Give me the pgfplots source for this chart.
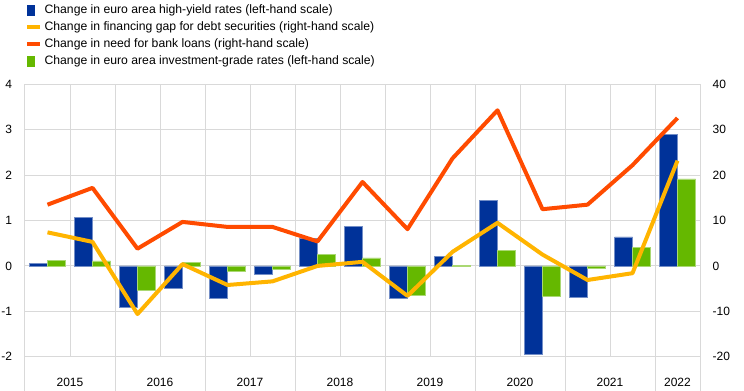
\documentclass[border=0pt]{standalone}
\usepackage{pgfplots}
\pgfplotsset{compat=1.18}
\usepackage{fontspec}
\setmainfont{Liberation Sans}
\definecolor{ecbblue}{HTML}{003299}
\definecolor{ecbgreen}{HTML}{65B800}
\definecolor{ecbyellow}{HTML}{FFB400}
\definecolor{ecborange}{HTML}{FF4B00}
\definecolor{gridgray}{HTML}{D9D9D9}
\begin{document}
\begin{tikzpicture}
\begin{axis}[
  at={(18.75pt,25.725pt)}, anchor=south west,
  scale only axis, width=506.25pt, height=204.2pt,
  xmin=-0.5, xmax=14.5, ymin=-2, ymax=4,
  axis line style={draw=gridgray, line width=0.75pt},
  xtick={0.5,2.5,4.5,6.5,8.5,10.5,12.5,14},
  xticklabels={2015,2016,2017,2018,2019,2020,2021,2022},
  minor xtick={0.5,1.5,2.5,3.5,4.5,5.5,6.5,7.5,8.5,9.5,10.5,11.5,12.5,13.5},
  xminorgrids, 
  ytick={-2,-1,0,1,2,3,4},
  yticklabels={-2,-1,0,1,2,3,4},
  ymajorgrids,
  grid style={draw=gridgray, line width=0.75pt},
  minor grid style={draw=gridgray, line width=0.75pt},
  major tick length=0pt, minor tick length=0pt,
  tick pos=left,
  extra x ticks={-0.5,1.5,3.5,5.5,7.5,9.5,11.5,13.5,14.5},
  extra x tick labels={},
  extra x tick style={major tick length=25.8pt, tick align=outside,
     tick style={draw=gridgray, line width=0.75pt}, grid=none},
  xticklabel style={anchor=base, yshift=-22pt, font=\fontsize{9}{10}\selectfont},
  yticklabel style={anchor=east, xshift=-6.2pt, font=\fontsize{9}{10}\selectfont},
]
\addplot[ybar, bar width=0.4, bar shift=-0.2, fill=ecbblue, draw=ecbblue!55!white, line width=0.4pt]
 coordinates {(0,0.05)(1,1.07)(2,-0.90)(3,-0.50)(4,-0.71)(5,-0.18)(6,0.60)(7,0.87)(8,-0.71)(9,0.21)(10,1.44)(11,-1.94)(12,-0.69)(13,0.64)(14,2.90)};
\addplot[ybar, bar width=0.4, bar shift=0.2, fill=ecbgreen, draw=ecbgreen!55!white, line width=0.4pt]
 coordinates {(0,0.13)(1,0.11)(2,-0.53)(3,0.07)(4,-0.11)(5,-0.08)(6,0.26)(7,0.18)(8,-0.64)(9,0.01)(10,0.35)(11,-0.67)(12,-0.05)(13,0.41)(14,1.92)};
\end{axis}
\begin{axis}[
  at={(18.75pt,25.725pt)}, anchor=south west,
  scale only axis, width=506.25pt, height=204.2pt,
  xmin=-0.5, xmax=14.5, ymin=-20, ymax=40,
  axis x line=none, axis y line*=right,
  axis line style={draw=gridgray, line width=0.75pt},
  ytick={-20,-10,0,10,20,30,40},
  yticklabels={-20,-10,0,10,20,30,40},
  major tick length=0pt,
  yticklabel style={anchor=west, xshift=6pt, font=\fontsize{9}{10}\selectfont},
  legend style={at={(0,1)}, anchor=south west, yshift=12.6pt, draw=none, fill=none,
     inner sep=0pt, row sep=3.75pt, column sep=0pt,
     nodes={inner sep=0pt, text height=7pt, text depth=2pt, font=\fontsize{9.15}{10}\selectfont}},
  legend cell align=left,
]
\addlegendimage{legend image code/.code={\fill[ecbblue] (0pt,-3.75pt) rectangle (5.25pt,3.75pt); \path[draw=none] (0pt,0pt) -- (13pt,0pt);}}
\addlegendentry{Change in euro area high-yield rates (left-hand scale)}
\addplot[ecbyellow, line width=3pt, line join=round,
  legend image code/.code={\draw[ecbyellow, line width=3pt] (0pt,0pt) -- (9.75pt,0pt); \path[draw=none] (0pt,0pt) -- (13pt,0pt);}]
 coordinates {(0,7.4)(1,5.3)(2,-10.6)(3,0.4)(4,-4.2)(5,-3.4)(6,0.0)(7,0.9)(8,-6.6)(9,3.1)(10,9.5)(11,2.5)(12,-3.1)(13,-1.6)(14,23.2)};
\addlegendentry{Change in financing gap for debt securities (right-hand scale)}
\addplot[ecborange, line width=3pt, line join=round,
  legend image code/.code={\draw[ecborange, line width=3pt] (0pt,0pt) -- (9.75pt,0pt); \path[draw=none] (0pt,0pt) -- (13pt,0pt);}]
 coordinates {(0,13.5)(1,17.2)(2,3.8)(3,9.7)(4,8.6)(5,8.6)(6,5.4)(7,18.5)(8,8.1)(9,23.7)(10,34.3)(11,12.5)(12,13.5)(13,22.2)(14,32.6)};
\addlegendentry{Change in need for bank loans (right-hand scale)}
\addlegendimage{legend image code/.code={\fill[ecbgreen] (0pt,-3.75pt) rectangle (5.25pt,3.75pt); \path[draw=none] (0pt,0pt) -- (13pt,0pt);}}
\addlegendentry{Change in euro area investment-grade rates (left-hand scale)}
\end{axis}
\pgfresetboundingbox
\path (0pt,0pt) rectangle (558pt,293.25pt);
\end{tikzpicture}
\end{document}
